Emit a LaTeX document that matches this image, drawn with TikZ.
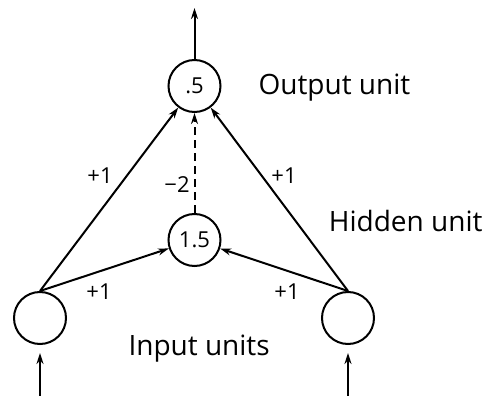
\documentclass[tikz,border=0pt]{standalone}
\usepackage{fontspec}
\setmainfont{Open Sans}
\usetikzlibrary{arrows.meta, positioning}

\begin{document}
\begin{tikzpicture}[
    x=1pt, y=-1pt,
    unit/.style={circle, draw, line width=2pt, minimum size=52pt, inner sep=0pt, font=\fontsize{22}{22}\selectfont},
    arrow/.style={-{Stealth[length=11pt, width=7pt]}, line width=2pt},
    weight/.style={font=\fontsize{22}{22}\selectfont},
    caption/.style={font=\fontsize{28}{28}\selectfont}
]
    \useasboundingbox (0,0) rectangle (491,396);

    % Units
    \node[unit] (out) at (194.5,86) {.5};
    \node[unit] (hid) at (194.5,240) {1.5};
    \node[unit] (inL) at (40,318) {};
    \node[unit] (inR) at (348,318) {};

    % Free ends
    \coordinate (top) at (194.5,8);
    \coordinate (srcL) at (40,396);
    \coordinate (srcR) at (348,396);

    % Connections
    \draw[arrow] (out.north) -- (top);
    \draw[arrow] (srcL) -- ([yshift=-8pt]inL.south);
    \draw[arrow] (srcR) -- ([yshift=-8pt]inR.south);
    \draw[arrow] (inL.north) -- (out);
    \draw[arrow] (inR.north) -- (out);
    \draw[arrow] (inL.north) -- (hid);
    \draw[arrow] (inR.north) -- (hid);
    \draw[arrow, dash pattern=on 8pt off 5pt] (hid.north) -- (out.south);

    % Weights
    \node[weight] (wLO) at (100,176) {+1};
    \node[weight] (wRO) at (284,176) {+1};
    \node[weight] (wHO) at (177,185) {−2};
    \node[weight] (wLH) at (99,292) {+1};
    \node[weight] (wRH) at (287,292) {+1};

    % Labels
    \node[caption, anchor=base west] (outlabel) at (255,95) {Output unit};
    \node[caption, anchor=base east] (hidlabel) at (486,232) {Hidden unit};
    \node[caption, anchor=base west] (inlabel) at (125,355) {Input units};

\end{tikzpicture}
\end{document}
